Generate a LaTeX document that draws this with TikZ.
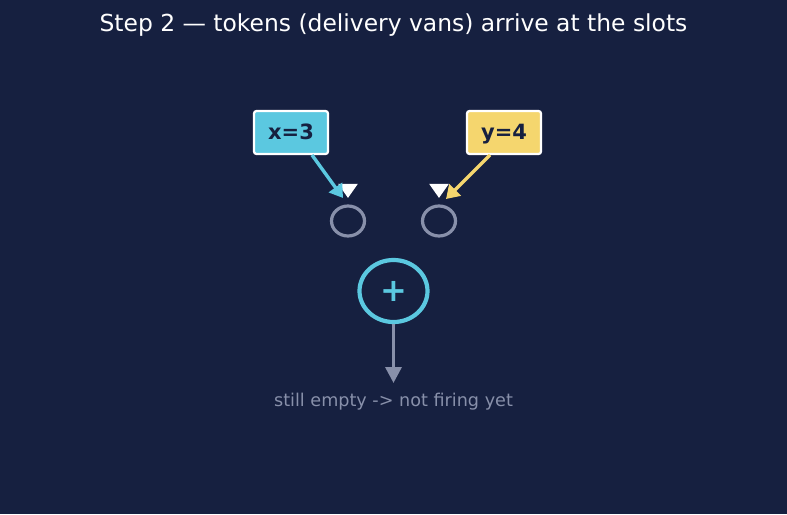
\documentclass[tikz,border=0pt]{standalone}
\usepackage{fontspec}
\setmainfont{DejaVu Sans}
\usetikzlibrary{arrows.meta,shapes.geometric}
\definecolor{bg}{RGB}{22,32,64}
\definecolor{cyanc}{RGB}{91,200,224}
\definecolor{yelc}{RGB}{245,214,110}
\definecolor{grayc}{RGB}{136,144,170}
\definecolor{navy}{RGB}{22,32,64}
\tikzset{
  valbox/.style={draw=white, line width=2.2pt, rounded corners=2.5pt, minimum width=74pt, minimum height=43pt, inner sep=0pt, text height=17pt, text depth=3pt, font=\fontsize{21}{24}\selectfont\bfseries, text=navy},
  slot/.style={ellipse, draw=grayc, line width=3.2pt, minimum width=33pt, minimum height=30pt, inner sep=0pt},
  tri/.style={isosceles triangle, shape border rotate=270, isosceles triangle apex angle=70, fill=white, inner sep=0pt, minimum height=14pt, minimum width=15pt},
  tokarrow/.style={line width=3.4pt, -{Triangle[length=13pt,width=16pt]}}
}
\begin{document}
\begin{tikzpicture}[x=1pt,y=-1pt]
\fill[bg] (0,0) rectangle (787,514);
\useasboundingbox (0,0) rectangle (787,514);
\node[text=white, font=\fontsize{23.4}{27}\selectfont] (title) at (393.5,25) {Step 2 — tokens (delivery vans) arrive at the slots};
\node[valbox, fill=cyanc] (bx) at (291,132.5) {x=3};
\node[valbox, fill=yelc] (by) at (504,132.5) {y=4};
\node[tri] (tx) at (348,189) {};
\node[tri] (ty) at (439,189) {};
\node[slot] (sx) at (348,221) {};
\node[slot] (sy) at (439,221) {};
\node[ellipse, draw=cyanc, line width=4.2pt, minimum width=68pt, minimum height=62pt, inner sep=0pt, text=cyanc, font=\fontsize{32}{34}\selectfont\bfseries] (plus) at (393.5,291) {+};
\coordinate (out) at (393.5,383);
\draw[line width=3.4pt, draw=grayc, -{Triangle[length=16pt,width=16pt]}] (plus.south) -- (out);
\node[text=grayc, font=\fontsize{17.6}{20}\selectfont] (msg) at (393.5,401.5) {still empty -> not firing yet};
\coordinate (ax) at (343,198);
\coordinate (ay) at (446,199);
\draw[tokarrow, draw=cyanc, fill=cyanc] (312,155) -- (ax);
\draw[tokarrow, draw=yelc, fill=yelc] (490,155) -- (ay);
\end{tikzpicture}
\end{document}
